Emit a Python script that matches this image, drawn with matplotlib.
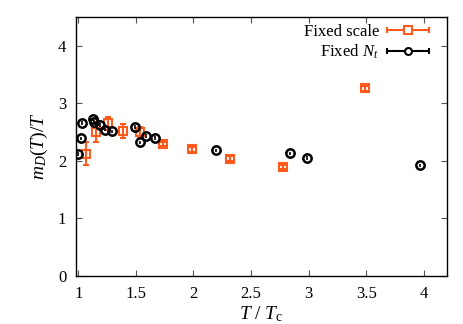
import matplotlib
matplotlib.use("Agg")
import matplotlib.pyplot as plt
from matplotlib.legend_handler import HandlerBase
from matplotlib.lines import Line2D

plt.rcParams['font.family'] = 'Liberation Serif'
plt.rcParams['mathtext.fontset'] = 'custom'
plt.rcParams['mathtext.rm'] = 'Liberation Serif'
plt.rcParams['mathtext.it'] = 'Liberation Serif:italic'

# Fixed scale data
fs_t = [1.07, 1.155, 1.257, 1.386, 1.54, 1.74, 1.99, 2.32, 2.78, 3.49]
fs_m = [2.12, 2.50, 2.65, 2.52, 2.50, 2.29, 2.20, 2.04, 1.89, 3.26]
fs_err = [0.20, 0.17, 0.11, 0.12, 0.08, 0.04, 0.04, 0.04, 0.04, 0.04]

# Fixed N_t data
fn_t = [1.0, 1.02, 1.035, 1.13, 1.14, 1.19, 1.23, 1.29, 1.49, 1.54, 1.59, 1.67,
        2.20, 2.84, 2.985, 3.97]
fn_m = [2.12, 2.39, 2.66, 2.72, 2.68, 2.62, 2.54, 2.51, 2.59, 2.32, 2.43, 2.40,
        2.18, 2.13, 2.05, 1.92]
fn_err = [0.03] * len(fn_t)

orange = '#ff5a1e'


class GnuplotHandler(HandlerBase):
    def __init__(self, color, marker, size):
        super().__init__()
        self.color = color
        self.marker = marker
        self.size = size

    def create_artists(self, legend, orig_handle, xdescent, ydescent,
                       width, height, fontsize, trans):
        y = height / 2 - ydescent
        x0, x1 = -xdescent, width - xdescent
        line = Line2D([x0, x1], [y, y], color=self.color, lw=1.5, transform=trans)
        caps = Line2D([x0, x1], [y, y], color=self.color, ls='none', marker='|',
                      markersize=5, mew=1.5, transform=trans)
        mk = Line2D([(x0 + x1) / 2], [y], color=self.color, ls='none',
                    marker=self.marker, markersize=self.size, mfc='white',
                    mew=1.5, transform=trans)
        return [line, caps, mk]


fig = plt.figure(figsize=(4.63, 3.24), dpi=100)
ax = fig.add_axes([0.164, 0.148, 0.801, 0.800])

ax.errorbar(fs_t, fs_m, yerr=fs_err, fmt='s', color=orange, mfc='none',
            mec=orange, ms=6, mew=1.5, elinewidth=1.5, capsize=2, zorder=3)
ax.errorbar(fn_t, fn_m, yerr=fn_err, fmt='o', color='black', mfc='none',
            mec='black', ms=6, mew=1.8, elinewidth=1.2, capsize=0, zorder=4)

ax.set_xlim(0.98, 4.2)
ax.set_ylim(0, 4.5)
ax.set_xticks([1, 1.5, 2, 2.5, 3, 3.5, 4])
ax.set_xticklabels(['1', '1.5', '2', '2.5', '3', '3.5', '4'])
ax.set_yticks([0, 1, 2, 3, 4])
ax.tick_params(direction='in', top=True, right=True, labelsize=12, length=4,
               color='#555555', pad=7)
for s in ax.spines.values():
    s.set_linewidth(1.0)

ax.set_xlabel('$T\\ /\\ T_{\\rm c}$', fontsize=14, labelpad=2)
ax.set_ylabel('$m_D(T)/T$', fontsize=14, labelpad=6)

h1 = Line2D([], [], color=orange)
h2 = Line2D([], [], color='black')
ax.legend([h1, h2], ['Fixed scale', 'Fixed $N_t$'], loc='upper right',
          bbox_to_anchor=(0.97, 1.0),
          frameon=False, markerfirst=False, fontsize=12, handlelength=2.5,
          borderaxespad=0.0, labelspacing=0.2, handletextpad=0.5,
          handler_map={h1: GnuplotHandler(orange, 's', 6),
                       h2: GnuplotHandler('black', 'o', 5)})

fig.savefig('out.png', dpi=100)
